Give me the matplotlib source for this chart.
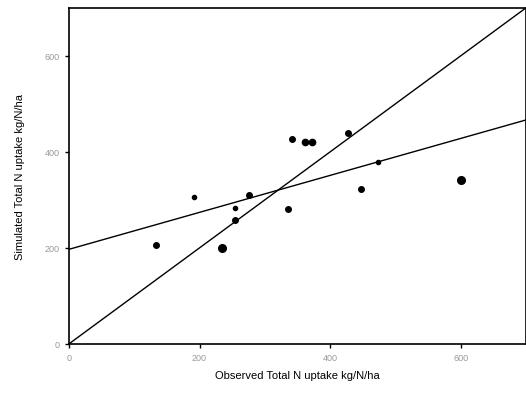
import numpy as np
import matplotlib
matplotlib.use("Agg")
import matplotlib.pyplot as plt

plt.rcParams['font.family'] = ['Liberation Sans', 'DejaVu Sans']

# observed vs simulated total N uptake (kg N/ha)
observed = [133, 191, 234, 255, 254, 276, 335, 341, 362, 373, 427, 473, 447, 601]
simulated = [205, 306, 199, 283, 259, 310, 280, 427, 421, 421, 440, 378, 323, 342]
marker_sizes = [4, 3, 5.5, 3, 4, 4, 4, 4, 4.5, 4.5, 4, 3, 4, 5.5]

# fitted regression line (intercept, slope)
fit_intercept = 197
fit_slope = 0.385

fig = plt.figure(figsize=(5.26, 4.02), dpi=100)
ax = fig.add_axes([0.131, 0.142, 0.869, 0.836])

xs = np.array([0, 700])
ax.plot(xs, xs, color='black', lw=1.0)
ax.plot(xs, fit_intercept + fit_slope * xs, color='black', lw=1.0)

for x, y, s in zip(observed, simulated, marker_sizes):
    ax.plot(x, y, 'o', color='black', markersize=s)

ax.set_xlim(0, 700)
ax.set_ylim(0, 700)
ax.set_xticks([0, 200, 400, 600])
ax.set_yticks([0, 200, 400, 600])
ax.tick_params(direction='out', length=3, width=1, labelsize=6.5,
               labelcolor='#999999')
for sp in ax.spines.values():
    sp.set_linewidth(1.2)

ax.set_xlabel('Observed Total N uptake kg/N/ha', fontsize=8, labelpad=6)
ax.set_ylabel('Simulated Total N uptake kg/N/ha', fontsize=8, labelpad=14)

fig.savefig('out.png', dpi=100)
